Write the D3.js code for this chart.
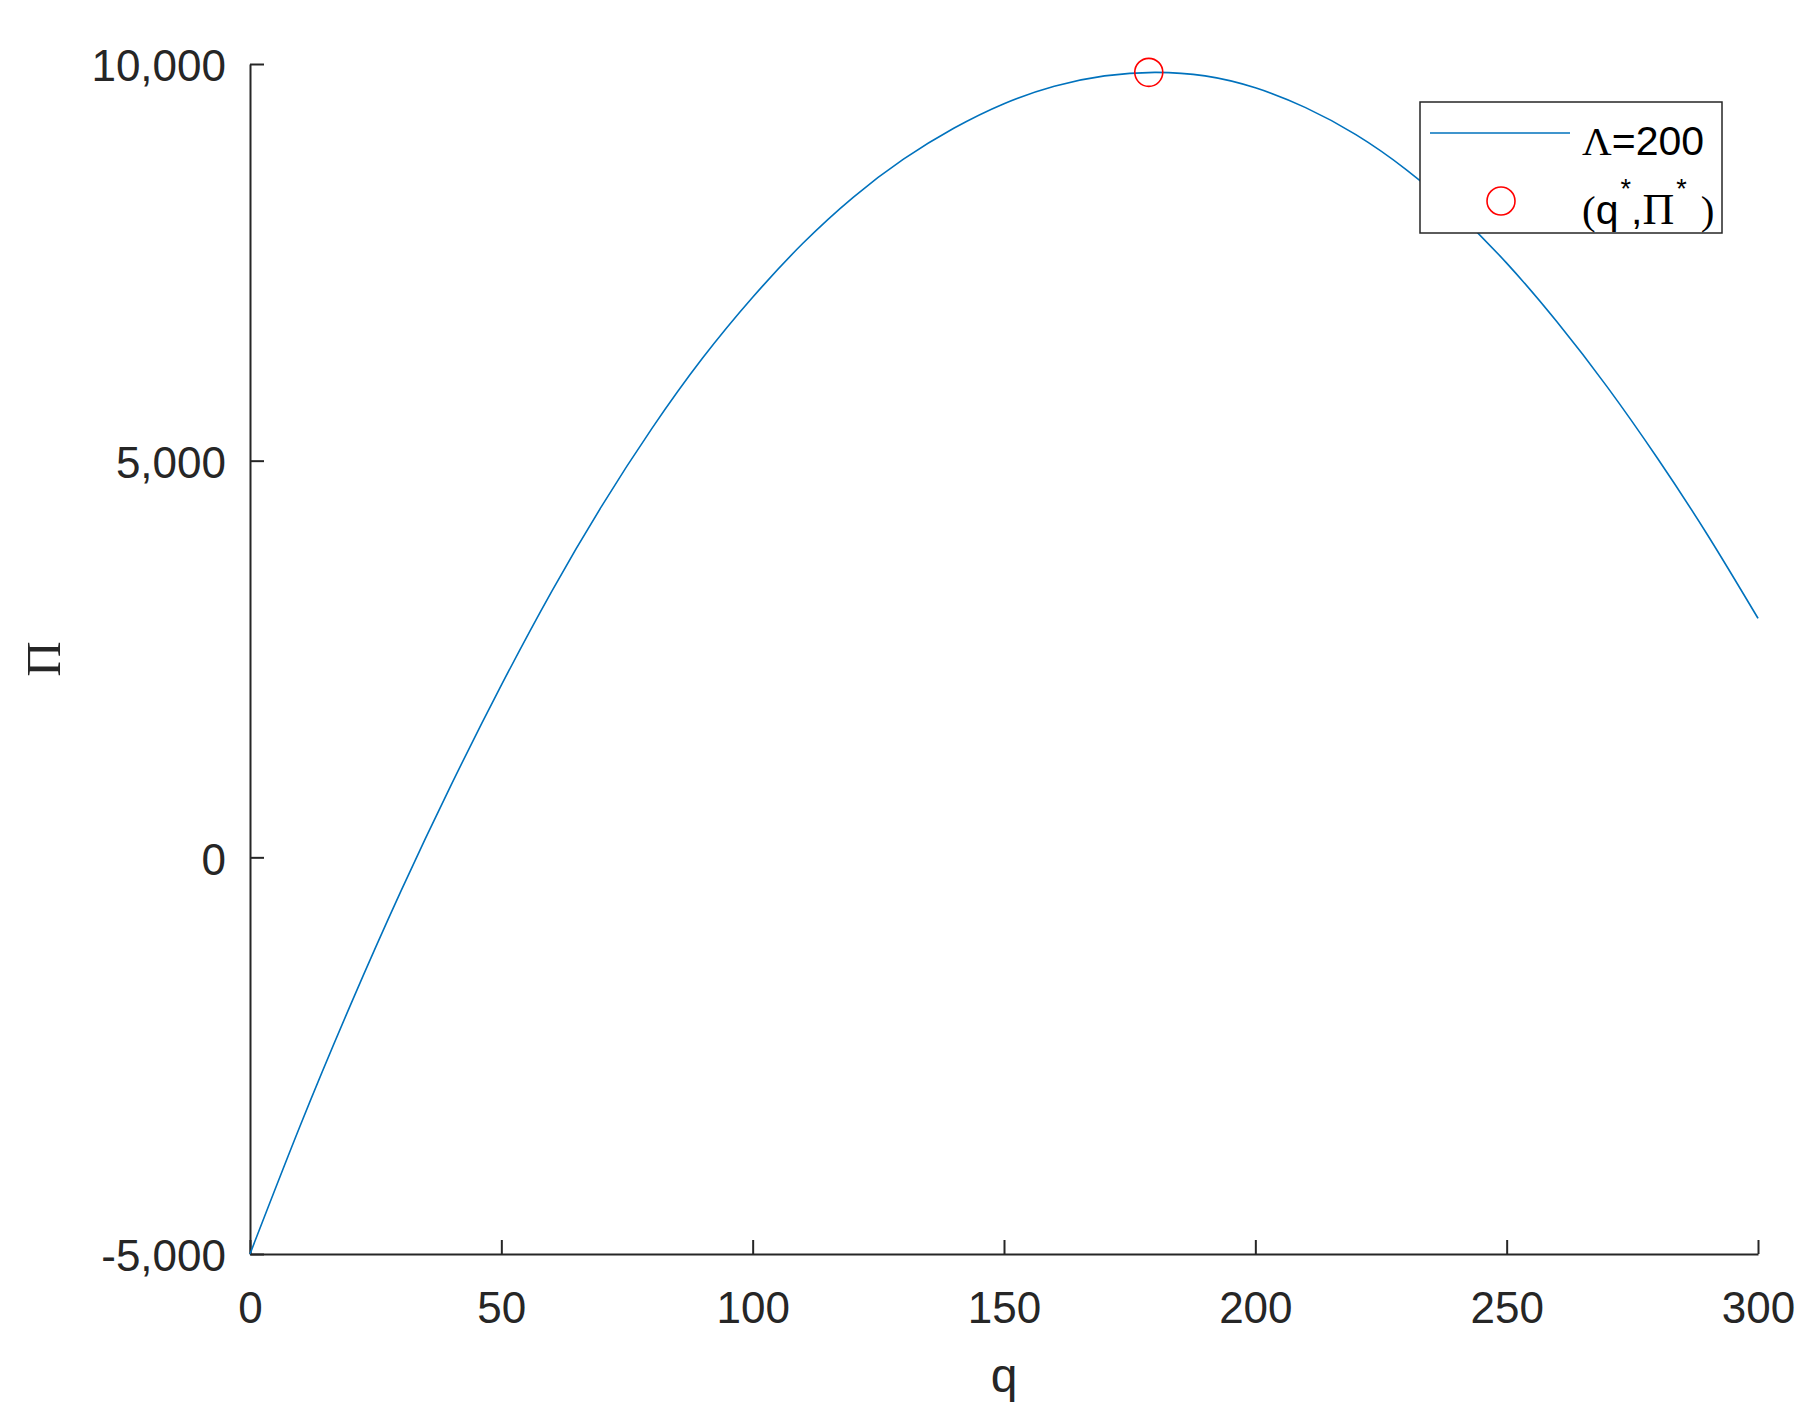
<!DOCTYPE html>
<html>
<head>
<meta charset="utf-8">
<script src="https://cdn.jsdelivr.net/npm/d3@7"></script>
<style>
  body { margin: 0; background: #fff; }
  .axis text { font-family: "Liberation Sans", Arial, sans-serif; font-size: 44px; fill: #262626; }
  .axis path, .axis line { stroke: #262626; stroke-width: 2; }
</style>
</head>
<body>
<div id="viz"></div>
<script>
var width = 1819,
    height = 1426,
    margin = {top: 64, right: 61, bottom: 172, left: 250};

// profit curve
var qValues = [0, 10, 20, 30, 40, 50, 60, 70, 80, 90, 100, 110, 120, 130, 140, 150,
               160, 170, 180, 190, 200, 210, 220, 230, 240, 250, 260, 270, 280, 290, 300];
var profitValues = [-5000, -3380, -1860, -430, 910, 2170, 3350, 4430, 5410, 6290, 7060, 7740,
                    8320, 8800, 9190, 9500, 9720, 9850, 9895, 9850, 9700, 9450, 9110, 8670,
                    8130, 7490, 6750, 5930, 5030, 4060, 3013];

// optimum marker
var optimumQ = [178.8];
var optimumProfit = [9895];

var xTicks = [0, 50, 100, 150, 200, 250, 300];
var yTicks = [-5000, 0, 5000, 10000];
var xDomain = [0, 300];
var yDomain = [-5000, 10000];

var lineColor = '#0072BD',
    markerColor = '#FF0000';

var data = qValues.map(function(q, i) { return {q: q, p: profitValues[i]}; });

var x = d3.scaleLinear()
  .domain(xDomain)
  .range([margin.left, width - margin.right]);

var y = d3.scaleLinear()
  .domain(yDomain)
  .range([height - margin.bottom, margin.top]);

var svg = d3.select('#viz').append('svg')
  .attr('width', width)
  .attr('height', height);

// matlab style: ticks inward, plain hyphen for negatives
var commaFmt = d3.format(',');
var xAxis = d3.axisBottom(x)
  .tickValues(xTicks)
  .tickSizeInner(-14)
  .tickSizeOuter(0)
  .tickPadding(38)
  .tickFormat(d3.format('d'));

var yAxis = d3.axisLeft(y)
  .tickValues(yTicks)
  .tickSizeInner(-14)
  .tickSizeOuter(0)
  .tickPadding(24)
  .tickFormat(function(d) { return commaFmt(d).replace('\u2212', '-'); });

svg.append('g')
  .attr('class', 'x axis')
  .attr('transform', 'translate(0,' + (height - margin.bottom) + ')')
  .call(xAxis);

svg.append('g')
  .attr('class', 'y axis')
  .attr('transform', 'translate(' + margin.left + ',0)')
  .call(yAxis)
  .selectAll('text')
  .attr('dy', '0.38em');

var profitLine = d3.line()
  .x(function(d) { return x(d.q); })
  .y(function(d) { return y(d.p); })
  .curve(d3.curveNatural);

svg.append('path')
  .datum(data)
  .attr('fill', 'none')
  .attr('stroke', lineColor)
  .attr('stroke-width', 1.6)
  .attr('d', profitLine);

svg.selectAll('.optimum')
  .data(optimumQ)
  .enter().append('circle')
  .attr('class', 'optimum')
  .attr('cx', function(d) { return x(d); })
  .attr('cy', function(d, i) { return y(optimumProfit[i]); })
  .attr('r', 14)
  .attr('fill', 'none')
  .attr('stroke', markerColor)
  .attr('stroke-width', 1.6);

// axis labels
svg.append('text')
  .attr('x', (margin.left + width - margin.right) / 2)
  .attr('y', 1392)
  .attr('text-anchor', 'middle')
  .style('font-family', '"Liberation Sans", Arial, sans-serif')
  .style('font-size', '48px')
  .style('fill', '#262626')
  .text('q');

svg.append('text')
  .attr('transform', 'translate(60,' + ((margin.top + height - margin.bottom) / 2) + ') rotate(-90)')
  .attr('text-anchor', 'middle')
  .style('font-family', '"Liberation Serif", "Times New Roman", serif')
  .style('font-size', '49px')
  .style('fill', '#262626')
  .text('Π');

// legend
var legend = svg.append('g')
  .attr('class', 'legend')
  .attr('transform', 'translate(1420,102)');

legend.append('rect')
  .attr('width', 302)
  .attr('height', 131)
  .attr('fill', '#fff')
  .attr('stroke', '#262626')
  .attr('stroke-width', 1.5);

legend.append('line')
  .attr('x1', 10).attr('x2', 150)
  .attr('y1', 31).attr('y2', 31)
  .attr('stroke', lineColor)
  .attr('stroke-width', 1.6);

legend.append('circle')
  .attr('cx', 81).attr('cy', 99)
  .attr('r', 14)
  .attr('fill', 'none')
  .attr('stroke', markerColor)
  .attr('stroke-width', 1.6);

var sans = '"Liberation Sans", Arial, sans-serif',
    serif = '"Liberation Serif", "Times New Roman", serif';

var t1 = legend.append('text')
  .attr('x', 162).attr('y', 53)
  .style('font-size', '41px')
  .style('fill', '#000');
t1.append('tspan').style('font-family', serif).text('Λ');
t1.append('tspan').style('font-family', sans).text('=200');

var t2 = legend.append('text')
  .attr('x', 162).attr('y', 122)
  .style('font-size', '41px')
  .style('fill', '#000');
t2.append('tspan').style('font-family', serif).text('(');
t2.append('tspan').style('font-family', sans).text('q');
t2.append('tspan').style('font-family', sans).style('font-size', '27px').attr('dy', -26).attr('dx', 2).text('*');
t2.append('tspan').style('font-family', sans).attr('dy', 26).text(',');
t2.append('tspan').style('font-family', serif).style('font-size', '44px').text('Π');
t2.append('tspan').style('font-family', sans).style('font-size', '27px').attr('dy', -26).attr('dx', 2).text('*');
t2.append('tspan').style('font-family', serif).attr('dy', 26).attr('dx', 14).text(')');
</script>
</body>
</html>
